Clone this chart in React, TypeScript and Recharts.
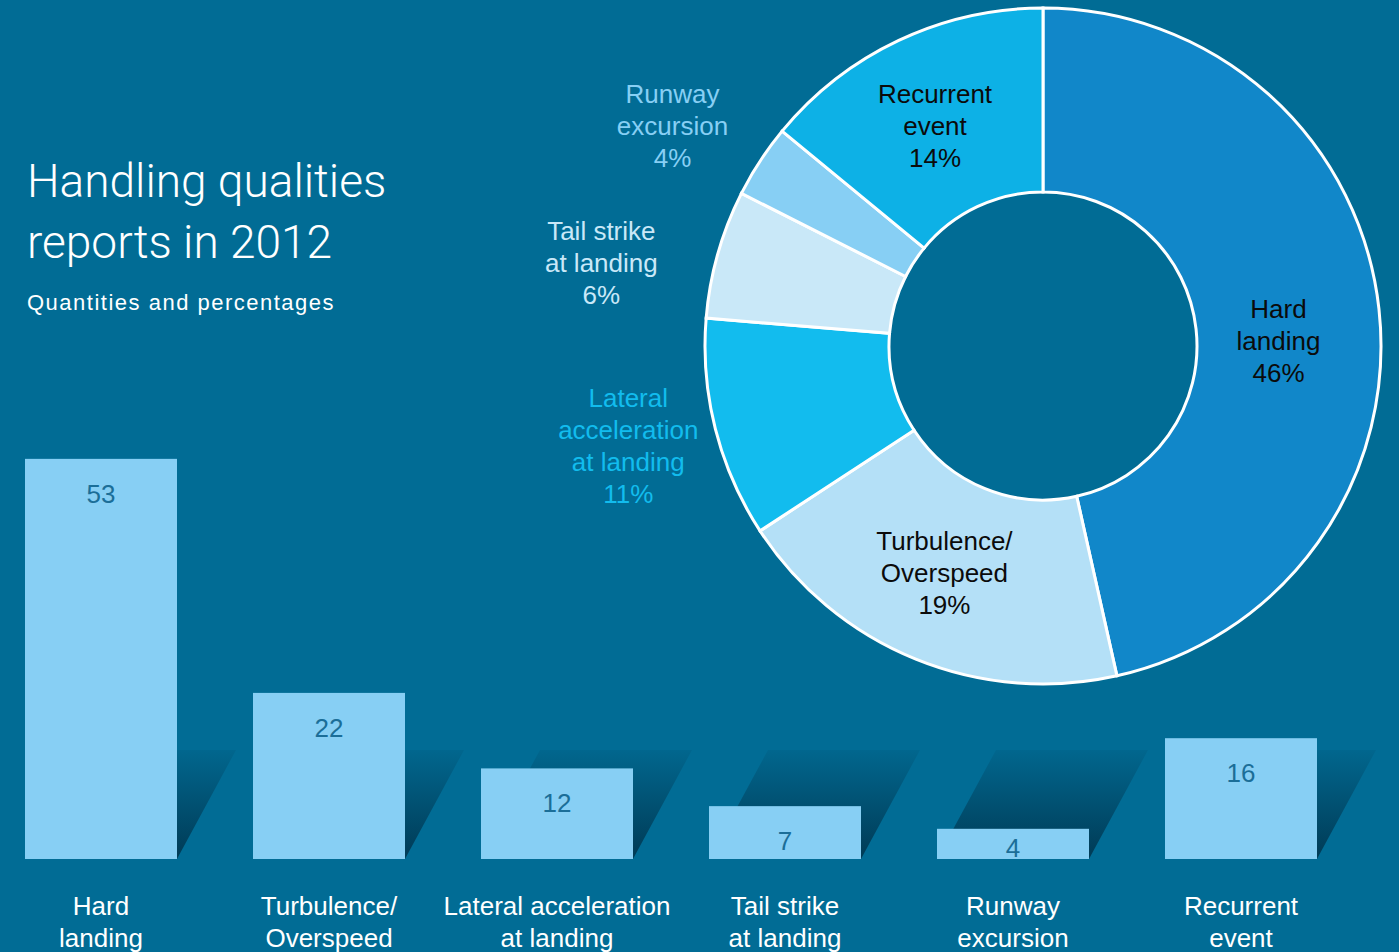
import { BarChart, Bar, XAxis, YAxis, LabelList, PieChart, Pie, Cell } from "recharts";

// bar categories (axis labels) and report counts
const CATEGORIES = [
  "Hard\nlanding",
  "Turbulence/\nOverspeed",
  "Lateral acceleration\nat landing",
  "Tail strike\nat landing",
  "Runway\nexcursion",
  "Recurrent\nevent",
];
const REPORTS = [53, 22, 12, 7, 4, 16];

// donut slices use the same counts, with their own line breaks
const SLICE_NAMES = [
  "Hard\nlanding",
  "Turbulence/\nOverspeed",
  "Lateral\nacceleration\nat landing",
  "Tail strike\nat landing",
  "Runway\nexcursion",
  "Recurrent\nevent",
];
const SLICE_COLORS = ["#1187c9", "#b4e0f7", "#12bcee", "#c9e8f8", "#87cff4", "#0db1e6"];
const LABEL_INSIDE = [true, true, false, false, false, true];
const LABEL_NUDGE = [
  [-9, 22],
  [-6, -1],
  [5, -6],
  [-25, 35],
  [-8, 17],
  [-3, 2],
];

const BG = "#016c95";
const BAR_FILL = "#87cff4";
const FONT = "'Liberation Sans', Arial, Helvetica, sans-serif";
const RADIAN = Math.PI / 180;

const barData = CATEGORIES.map((name, i) => ({ name, value: REPORTS[i] }));
const pieData = SLICE_NAMES.map((name, i) => ({ name, value: REPORTS[i] }));

function ShadowBar(props: any) {
  const { x, y, width, height } = props;
  const base = y + height;
  const rise = 109;
  const run = 59;
  return (
    <g>
      <polygon
        points={`${x},${base} ${x + width},${base} ${x + width + run},${base - rise} ${x + run},${base - rise}`}
        fill="url(#barShadow)"
      />
      <rect x={x} y={y} width={width} height={height} fill={BAR_FILL} />
    </g>
  );
}

function ValueLabel(props: any) {
  const { x, y, width, height, value } = props;
  const base = y + height;
  const ty = Math.min(y + 44, base - 2);
  return (
    <text x={x + width / 2} y={ty} textAnchor="middle" fill="#1b6e98" fontSize={26} fontFamily={FONT}>
      {value}
    </text>
  );
}

function CategoryTick(props: any) {
  const { x, y, payload } = props;
  const lines = String(payload.value).split("\n");
  return (
    <text x={x} y={y} textAnchor="middle" fill="#ffffff" fontSize={26} fontFamily={FONT}>
      {lines.map((line, i) => (
        <tspan key={i} x={x} dy={i === 0 ? 56 : 32}>
          {line}
        </tspan>
      ))}
    </text>
  );
}

function SliceLabel(props: any) {
  const { cx, cy, midAngle, innerRadius, outerRadius, percent, index } = props;
  const inside = LABEL_INSIDE[index];
  const r = inside ? (innerRadius + outerRadius) / 2 : outerRadius + 95;
  const [nx, ny] = LABEL_NUDGE[index];
  const x = cx + r * Math.cos(-midAngle * RADIAN) + nx;
  const y = cy + r * Math.sin(-midAngle * RADIAN) + ny;
  const lines = [...SLICE_NAMES[index].split("\n"), `${Math.round(percent * 100)}%`];
  const first = y - (lines.length - 1) * 16 + 9;
  return (
    <text
      x={x}
      y={first}
      textAnchor="middle"
      fill={inside ? "#0b0b0b" : SLICE_COLORS[index]}
      fontSize={26}
      fontFamily={FONT}
    >
      {lines.map((line, i) => (
        <tspan key={i} x={x} dy={i === 0 ? 0 : 32}>
          {line}
        </tspan>
      ))}
    </text>
  );
}

export default function App() {
  return (
    <div
      style={{
        position: "absolute",
        left: 0,
        top: 0,
        width: 1399,
        height: 952,
        background: BG,
        overflow: "hidden",
      }}
    >
      <div style={{ position: "absolute", left: -13, top: 400 }}>
        <BarChart width={1412} height={552} data={barData} margin={{ top: 6, right: 44, left: 0, bottom: 0 }}>
          <defs>
            <linearGradient id="barShadow" x1="0" y1="0" x2="0" y2="1">
              <stop offset="0%" stopColor="#002a40" stopOpacity={0.08} />
              <stop offset="100%" stopColor="#002a40" stopOpacity={0.75} />
            </linearGradient>
          </defs>
          <XAxis
            dataKey="name"
            height={93}
            axisLine={false}
            tickLine={false}
            tickSize={0}
            tickMargin={0}
            interval={0}
            tick={<CategoryTick />}
          />
          <YAxis hide domain={[0, 60]} />
          <Bar dataKey="value" barSize={152} shape={<ShadowBar />} isAnimationActive={false}>
            <LabelList dataKey="value" content={<ValueLabel />} />
          </Bar>
        </BarChart>
      </div>

      <div style={{ position: "absolute", left: 500, top: 0 }}>
        <PieChart width={899} height={720} margin={{ top: 0, right: 0, bottom: 0, left: 0 }}>
          <Pie
            data={pieData}
            dataKey="value"
            nameKey="name"
            cx={543}
            cy={346}
            innerRadius={154}
            outerRadius={338}
            startAngle={90}
            endAngle={-270}
            stroke="#ffffff"
            strokeWidth={3}
            label={SliceLabel}
            labelLine={false}
            isAnimationActive={false}
          >
            {pieData.map((_, i) => (
              <Cell key={i} fill={SLICE_COLORS[i]} />
            ))}
          </Pie>
        </PieChart>
      </div>

      <svg style={{ position: "absolute", left: 0, top: 0 }} width={500} height={340}>
        <text x={27} y={197} fill="#ffffff" fontSize={46} fontWeight={300} fontFamily="Roboto, 'Liberation Sans', sans-serif">
          Handling qualities
        </text>
        <text x={27} y={258} fill="#ffffff" fontSize={46} fontWeight={300} fontFamily="Roboto, 'Liberation Sans', sans-serif">
          reports in 2012
        </text>
        <text x={27} y={310} fill="#ffffff" fontSize={22} letterSpacing={1.5} fontFamily={FONT}>
          Quantities and percentages
        </text>
      </svg>
    </div>
  );
}
